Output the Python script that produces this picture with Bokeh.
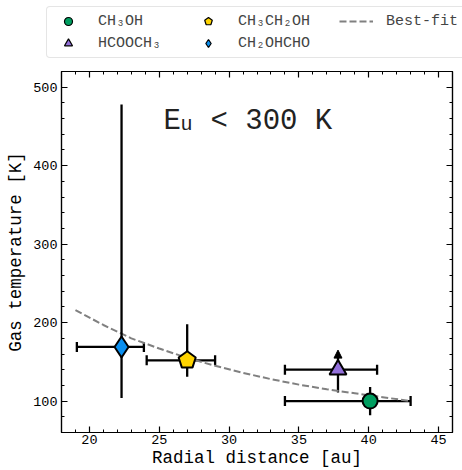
from bokeh.plotting import figure
from bokeh.layouts import column
from bokeh.models import (ColumnDataSource, Whisker, TeeHead, Arrow, NormalHead, Legend,
                          LegendItem, LinearAxis, Label, CustomJSTickFormatter, Range1d,
                          SingleIntervalTicker)
from bokeh.embed import file_html
from bokeh.resources import INLINE

FONT = "Liberation Mono"

# ---- data ----
species = ["CH₃OH", "HCOOCH₃", "CH₃CH₂OH", "CH₂OHCHO"]
radius = [40.1, 37.8, 27.0, 22.3]
radius_lo = [34.0, 34.0, 24.1, 19.1]
radius_hi = [43.0, 40.6, 29.0, 23.9]
temp = [100, 140, 152, 169]
temp_lo = [82, 111, 131, 104]
temp_hi = [118, 165, 198, 478]   # HCOOCH3: lower limit (arrow)
colors = ["#009e60", "#9370db", "#ffd400", "#0a8ff0"]

fit_r = [19, 21, 23, 25, 27, 29, 31, 33, 35, 37, 39, 41, 43]
fit_t = [216, 197, 180, 167, 155, 145, 136, 128, 121, 115, 110, 105, 100]

x_ticks_interval = 5
y_ticks_interval = 100

p = figure(width=462, height=410, x_range=Range1d(18, 46), y_range=Range1d(60, 520),
           output_backend="svg", toolbar_location=None,
           min_border_left=61, min_border_right=10, min_border_top=11, min_border_bottom=38)
p.xgrid.visible = False
p.ygrid.visible = False
p.outline_line_color = "black"
p.outline_line_width = 1.2
p.background_fill_color = "white"
p.border_fill_color = "white"

bottom = p.below[0]
left = p.left[0]

# best fit
fit = p.line(fit_r, fit_t, line_color="#808080", line_width=2, line_dash="7 3")

# x error bars with caps
src = ColumnDataSource(dict(x=radius, y=temp, xlo=radius_lo, xhi=radius_hi,
                            ylo=temp_lo, yhi=temp_hi, c=colors))
wx = Whisker(source=src, base="y", lower="xlo", upper="xhi", dimension="width",
             line_color="black", line_width=2.3,
             lower_head=TeeHead(size=10, line_color="black", line_width=2.3),
             upper_head=TeeHead(size=10, line_color="black", line_width=2.3))
wx.level = "underlay"
p.add_layout(wx)

# y error bars (no caps)
for i in [0, 2, 3]:
    p.segment(x0=[radius[i]], y0=[temp_lo[i]], x1=[radius[i]], y1=[temp_hi[i]],
              line_color="black", line_width=2.3)

# lower limit arrow for HCOOCH3
arr = Arrow(x_start=radius[1], y_start=temp_lo[1], x_end=radius[1], y_end=temp_hi[1],
            line_color="black", line_width=2.3,
            end=NormalHead(size=8, fill_color="black", line_color="black", line_width=1))
arr.level = "underlay"
p.add_layout(arr)

# markers
p.scatter([radius[0]], [temp[0]], marker="circle", size=15,
          fill_color=colors[0], line_color="black", line_width=2)
p.scatter([radius[1]], [temp[1]], marker="triangle", size=17,
          fill_color=colors[1], line_color="black", line_width=2)
p.ngon(x=[radius[2]], y=[temp[2]], radius=9, radius_units="screen", n=5,
       angle=0, fill_color=colors[2], line_color="black", line_width=2)
p.scatter([radius[3]], [temp[3]], marker="diamond", size=21,
          fill_color=colors[3], line_color="black", line_width=2)

# axes styling
bottom.ticker = SingleIntervalTicker(interval=x_ticks_interval, num_minor_ticks=5)
left.ticker = SingleIntervalTicker(interval=y_ticks_interval, num_minor_ticks=5)
top = LinearAxis(ticker=SingleIntervalTicker(interval=x_ticks_interval, num_minor_ticks=5),
                 formatter=CustomJSTickFormatter(code="return ''"), major_label_standoff=0)
right = LinearAxis(ticker=SingleIntervalTicker(interval=y_ticks_interval, num_minor_ticks=5),
                   formatter=CustomJSTickFormatter(code="return ''"), major_label_standoff=0)
p.add_layout(top, "above")
p.add_layout(right, "right")

for ax in [bottom, left, top, right]:
    ax.major_tick_in = 6
    ax.major_tick_out = 0
    ax.minor_tick_in = 3
    ax.minor_tick_out = 0
    ax.axis_line_color = "black"
    ax.axis_line_width = 1.2
    ax.major_tick_line_color = "black"
    ax.minor_tick_line_color = "black"
    ax.major_tick_line_width = 1.2
    ax.minor_tick_line_width = 1.0
    ax.major_label_text_font = FONT
    ax.major_label_text_font_size = "13.5px"
    ax.major_label_text_color = "black"

bottom.axis_label = "Radial distance [au]"
left.axis_label = "Gas temperature [K]"
for ax in [bottom, left]:
    ax.axis_label_text_font = FONT
    ax.axis_label_text_font_size = "17.5px"
    ax.axis_label_text_font_style = "normal"
    ax.axis_label_text_color = "black"
bottom.axis_label_standoff = 1
bottom.major_label_standoff = 2
left.axis_label_standoff = 4
left.major_label_standoff = 4

# annotation E_u < 300 K
for txt, dx, dy, fs in [("E", 0, 0, "29px"), ("u", 17, -3, "20px"), ("< 300 K", 47, 0, "29px")]:
    p.add_layout(Label(x=25.3, y=456, x_offset=dx, y_offset=dy, text=txt,
                       text_font=FONT, text_font_size=fs, text_color="#222222",
                       text_baseline="alphabetic"))

# ---- legend strip above the plot (proxy glyphs placed outside its visible range) ----
lf = figure(width=462, height=60, x_range=Range1d(0, 1), y_range=Range1d(0, 1),
            output_backend="svg", toolbar_location=None, min_border=0,
            x_axis_location=None, y_axis_location=None)
lf.frame_align = False
lf.xgrid.visible = False
lf.ygrid.visible = False
lf.outline_line_color = None
lf.border_fill_color = "white"
px, py = [5], [5]
g1 = lf.scatter(px, py, marker="circle", fill_color=colors[0], line_color="black", line_width=1.2)
g2 = lf.scatter(px, py, marker="triangle", fill_color=colors[1], line_color="black", line_width=1.2)
g3 = lf.ngon(x=px, y=py, radius=9, radius_units="screen", n=5, angle=0,
             fill_color=colors[2], line_color="black", line_width=1.2)
g4 = lf.scatter(px, py, marker="diamond", fill_color=colors[3], line_color="black", line_width=1.2)
g5 = lf.line([5, 6], [5, 6], line_color="#808080", line_width=2, line_dash="7 3")

pad = "\u00a0\u00a0\u00a0"
legend = Legend(items=[
    LegendItem(label=species[0], renderers=[g1]),
    LegendItem(label=species[1], renderers=[g2]),
    LegendItem(label=species[2] + pad, renderers=[g3]),
    LegendItem(label=species[3] + pad, renderers=[g4]),
    LegendItem(label="Best-fit", renderers=[g5]),
], location=(46, 2), orientation="vertical", nrows=2,
    glyph_width=34, glyph_height=20, label_standoff=13, spacing=2, padding=4,
    label_width=91, label_text_font=FONT, label_text_font_size="15px",
    border_line_color="#cccccc", border_line_width=1, border_radius=4,
    background_fill_color="white", background_fill_alpha=1)
lf.add_layout(legend, "center")

layout = column(lf, p, spacing=0)
open("out.html", "w").write(file_html(layout, INLINE))
